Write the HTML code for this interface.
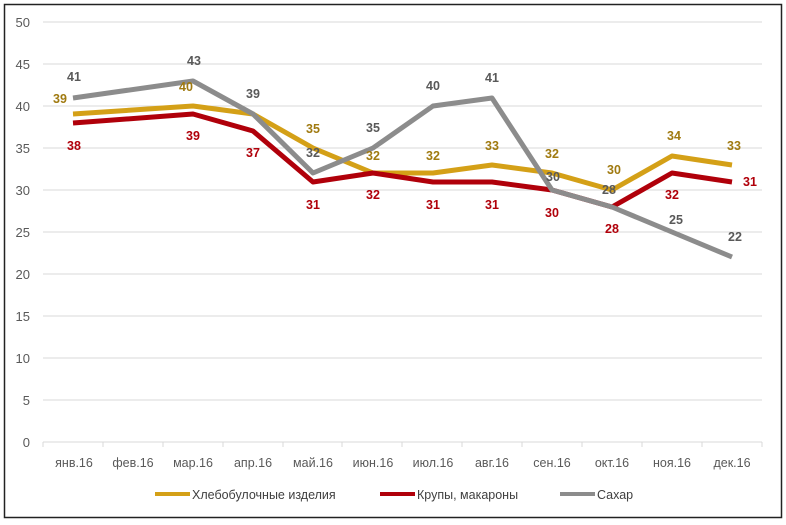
<!DOCTYPE html><html><head><meta charset="utf-8"><style>body{margin:0;background:#fff}svg{display:block;font-family:"Liberation Sans",sans-serif}</style></head><body>
<svg width="786" height="525" viewBox="0 0 786 525">
<rect x="4.5" y="4.5" width="777" height="513" fill="#fff" stroke="#222" stroke-width="1.5"/>
<g stroke="#d9d9d9" stroke-width="1">
<line x1="43" x2="762" y1="22" y2="22"/><line x1="43" x2="762" y1="64" y2="64"/><line x1="43" x2="762" y1="106" y2="106"/><line x1="43" x2="762" y1="148" y2="148"/><line x1="43" x2="762" y1="190" y2="190"/><line x1="43" x2="762" y1="232" y2="232"/><line x1="43" x2="762" y1="274" y2="274"/><line x1="43" x2="762" y1="316" y2="316"/><line x1="43" x2="762" y1="358" y2="358"/><line x1="43" x2="762" y1="400" y2="400"/><line x1="43" x2="762" y1="442" y2="442"/>
<path d="M43 442v5M103 442v5M163 442v5M223 442v5M283 442v5M342 442v5M402 442v5M462 442v5M522 442v5M582 442v5M642 442v5M702 442v5M762 442v5"/>
</g>
<g fill="#595959" font-size="13" text-anchor="end">
<text x="30" y="27">50</text><text x="30" y="69">45</text><text x="30" y="111">40</text><text x="30" y="153">35</text><text x="30" y="195">30</text><text x="30" y="237">25</text><text x="30" y="279">20</text><text x="30" y="321">15</text><text x="30" y="363">10</text><text x="30" y="405">5</text><text x="30" y="447">0</text>
</g>
<g fill="#595959" font-size="12.5" text-anchor="middle">
<text x="74" y="467">янв.16</text><text x="133" y="467">фев.16</text><text x="193" y="467">мар.16</text><text x="253" y="467">апр.16</text><text x="313" y="467">май.16</text><text x="373" y="467">июн.16</text><text x="433" y="467">июл.16</text><text x="492" y="467">авг.16</text><text x="552" y="467">сен.16</text><text x="612" y="467">окт.16</text><text x="672" y="467">ноя.16</text><text x="732" y="467">дек.16</text>
</g>
<g fill="none" stroke-width="5" stroke-linejoin="round">
<polyline stroke="#d4a017" points="73,114 193,106 253,114 313,148 373,173 433,173 492,165 552,173 612,190 672,156 732,165"/>
<polyline stroke="#b0000a" points="73,123 193,114 253,131 313,182 373,173 433,182 492,182 552,190 612,207 672,173 732,182"/>
<polyline stroke="#8c8c8c" points="73,98 193,81 253,114 313,173 373,148 433,106 492,98 552,190 612,207 672,232 732,257"/>
</g>
<g font-size="12.5" font-weight="bold" text-anchor="middle">
<g fill="#595959"><text x="74" y="81">41</text><text x="194" y="65">43</text><text x="253" y="98">39</text><text x="313" y="157">32</text><text x="373" y="132">35</text><text x="433" y="90">40</text><text x="492" y="82">41</text><text x="553" y="181">30</text><text x="609" y="194">28</text><text x="676" y="224">25</text><text x="735" y="241">22</text></g>
<g fill="#a07a10"><text x="60" y="103">39</text><text x="186" y="91">40</text><text x="313" y="133">35</text><text x="373" y="160">32</text><text x="433" y="160">32</text><text x="492" y="150">33</text><text x="552" y="158">32</text><text x="614" y="174">30</text><text x="674" y="140">34</text><text x="734" y="150">33</text></g>
<g fill="#b0000a"><text x="74" y="150">38</text><text x="193" y="140">39</text><text x="253" y="157">37</text><text x="313" y="209">31</text><text x="373" y="199">32</text><text x="433" y="209">31</text><text x="492" y="209">31</text><text x="552" y="217">30</text><text x="612" y="233">28</text><text x="672" y="199">32</text><text x="750" y="186">31</text></g>
</g>
<g font-size="12.5" fill="#404040">
<line x1="155" x2="190" y1="494" y2="494" stroke="#d4a017" stroke-width="4"/><text x="192" y="499">Хлебобулочные изделия</text>
<line x1="380" x2="415" y1="494" y2="494" stroke="#b0000a" stroke-width="4"/><text x="417" y="499">Крупы, макароны</text>
<line x1="560" x2="595" y1="494" y2="494" stroke="#8c8c8c" stroke-width="4"/><text x="597" y="499">Сахар</text>
</g>
</svg></body></html>
